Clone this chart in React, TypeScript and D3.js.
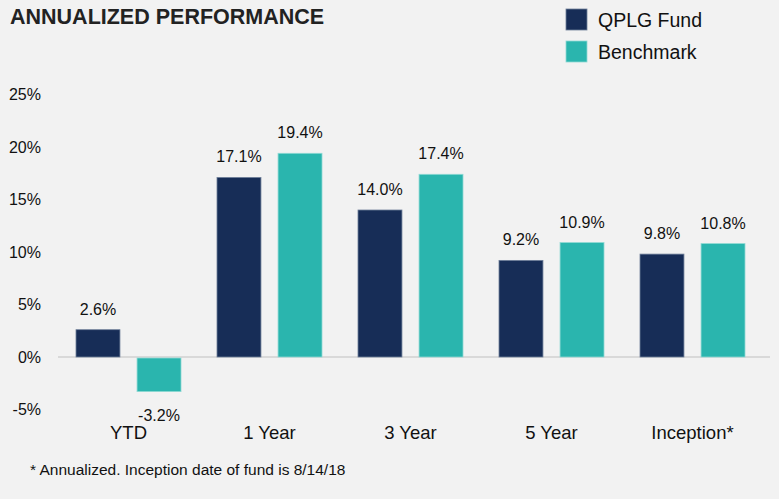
import React from "react";
import * as d3 from "d3";

// chart values
const categories = ["YTD", "1 Year", "3 Year", "5 Year", "Inception*"];
const seriesNames = ["QPLG Fund", "Benchmark"];
const fundValues = [2.6, 17.1, 14.0, 9.2, 9.8];
const benchValues = [-3.2, 19.4, 17.4, 10.9, 10.8];
const yTicks = [-5, 0, 5, 10, 15, 20, 25];
const colors = ["#172d57", "#2ab5ae"];
const strokes = ["#6f7f99", "#8fdad4"];

const width = 779,
  height = 499;

function App() {
  const x0 = d3.scaleBand<string>().domain(categories).range([58, 763]).padding(0);
  const x1 = d3
    .scaleBand<string>()
    .domain(seriesNames)
    .range([18, x0.bandwidth() - 18])
    .paddingInner(0.28);
  const y = d3.scaleLinear().domain([-5, 25]).range([409.5, 94.5]);

  const rows = categories.map((c, i) => ({
    cat: c,
    vals: [fundValues[i], benchValues[i]],
  }));

  const font = "'Liberation Sans', Arial, sans-serif";

  return (
    <div style={{ position: "fixed", left: 0, top: 0 }}>
      <svg width={width} height={height} style={{ display: "block" }} fontFamily={font}>
        <rect width={width} height={height} fill="#f2f2f2" />

        {/* title */}
        <text x={10} y={24} fontSize={21.5} fontWeight="bold" fill="#222">
          ANNUALIZED PERFORMANCE
        </text>

        {/* legend */}
        {seriesNames.map((s, i) => (
          <g key={s} transform={`translate(566, ${9 + i * 32})`}>
            <rect width={21} height={21} fill={colors[i]} stroke={strokes[i]} strokeWidth={0.8} />
            <text x={32} y={17.5} fontSize={19.5} fill="#111">
              {s}
            </text>
          </g>
        ))}

        {/* y axis labels */}
        {yTicks.map((t) => (
          <text
            key={t}
            x={41}
            y={y(t)}
            dy="0.35em"
            textAnchor="end"
            fontSize={16}
            fill="#111"
          >
            {t + "%"}
          </text>
        ))}

        {/* zero line */}
        <line x1={58} x2={770} y1={y(0)} y2={y(0)} stroke="#d9d9d9" strokeWidth={2} />

        {/* bars */}
        {rows.map((r) => (
          <g key={r.cat} transform={`translate(${x0(r.cat)},0)`}>
            {r.vals.map((v, i) => {
              const bx = x1(seriesNames[i])!;
              const top = v >= 0 ? y(v) : y(0) + 1;
              const h = Math.abs(y(v) - y(0));
              return (
                <g key={i}>
                  <rect
                    x={bx}
                    y={top}
                    width={x1.bandwidth()}
                    height={h}
                    fill={colors[i]}
                    stroke={strokes[i]}
                    strokeWidth={0.8}
                  />
                  <text
                    x={bx + x1.bandwidth() / 2}
                    y={v >= 0 ? y(v) - 15 : y(v) + 30}
                    textAnchor="middle"
                    fontSize={16}
                    fill="#111"
                  >
                    {v.toFixed(1) + "%"}
                  </text>
                </g>
              );
            })}
            <text
              x={x0.bandwidth() / 2}
              y={439}
              textAnchor="middle"
              fontSize={18.5}
              fill="#111"
            >
              {r.cat}
            </text>
          </g>
        ))}

        {/* footnote */}
        <text x={30} y={475} fontSize={15.5} fill="#111">
          * Annualized. Inception date of fund is 8/14/18
        </text>
      </svg>
    </div>
  );
}

export default App;
